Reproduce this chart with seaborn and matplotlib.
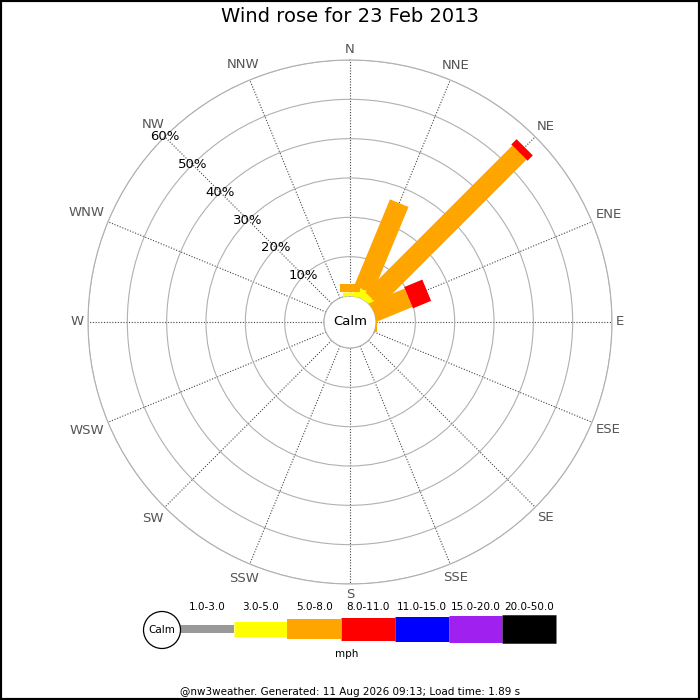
import matplotlib
matplotlib.use("Agg")
import matplotlib.pyplot as plt
import numpy as np
import seaborn as sns
from matplotlib.patches import Circle, Rectangle

# Wind directions (clockwise from north)
directions = ['N', 'NNE', 'NE', 'ENE', 'E', 'ESE', 'SE', 'SSE',
              'S', 'SSW', 'SW', 'WSW', 'W', 'WNW', 'NW', 'NNW']

# Speed bins (mph) and their colours
speed_bins = ['1.0-3.0', '3.0-5.0', '5.0-8.0', '8.0-11.0',
              '11.0-15.0', '15.0-20.0', '20.0-50.0']
bin_colors = ['#999999', '#ffff00', '#ffa500', '#ff0000',
              '#0000ff', '#a020f0', '#000000']

# Percentage of time per direction, per speed bin
pct_1_3 = [0, 0, 0, 0, 0, 0, 0, 0, 0, 0, 0, 0, 0, 0, 0, 0]
pct_3_5 = [1.1, 2.3, 1.5, 0, 0, 0, 0, 0, 0, 0, 0, 0, 0, 0, 0, 0]
pct_5_8 = [2.0, 23.8, 52.8, 9.5, 0.3, 0, 0, 0, 0, 0, 0, 0, 0, 0, 0, 0]
pct_8_11 = [0, 0, 1.9, 5.0, 0, 0, 0, 0, 0, 0, 0, 0, 0, 0, 0, 0]
pct_11_15 = [0, 0, 0, 0, 0, 0, 0, 0, 0, 0, 0, 0, 0, 0, 0, 0]
pct_15_20 = [0, 0, 0, 0, 0, 0, 0, 0, 0, 0, 0, 0, 0, 0, 0, 0]
pct_20_50 = [0, 0, 0, 0, 0, 0, 0, 0, 0, 0, 0, 0, 0, 0, 0, 0]

ring_ticks = [10, 20, 30, 40, 50, 60]

title = 'Wind rose for 23 Feb 2013'
footer = '@nw3weather. Generated: 11 Aug 2026 09:13; Load time: 1.89 s'

sns.set_style('white')
plt.rcParams['font.family'] = ['DejaVu Sans']
plt.rcParams['text.color'] = 'black'

# bar thickness in pixels for each bin (also used in the legend)
bar_px = [8, 15, 20, 23, 25, 27, 28.5]
calm_offset = 6.61  # size of calm hole, in % units
outer_px = 262
px_per_unit = outer_px / (60 + calm_offset)

fig = plt.figure(figsize=(7, 7), dpi=100)
fig.patch.set_facecolor('white')

R = outer_px / 700
ax = fig.add_axes([0.5 - R, 1 - 322 / 700 - R, 2 * R, 2 * R], projection='polar')
ax.set_theta_zero_location('N')
ax.set_theta_direction(-1)
ax.set_ylim(0, 60)
ax.set_rorigin(-calm_offset)

theta = np.deg2rad(np.arange(16) * 22.5)
data = np.array([pct_1_3, pct_3_5, pct_5_8, pct_8_11, pct_11_15, pct_15_20, pct_20_50])
top = np.cumsum(data, axis=0)
bottom = top - data
bottom[bottom == 0] = -calm_offset  # first segment starts at the centre (clipped by calm hole)

for i in range(len(speed_bins)):
    mask = data[i] > 0
    if mask.any():
        ax.vlines(theta[mask], bottom[i][mask], top[i][mask],
                  colors=bin_colors[i], linewidth=bar_px[i] * 0.72,
                  capstyle='butt', zorder=3)

# grids
ax.set_thetagrids(np.arange(16) * 22.5, labels=[''] * 16)
ax.set_rgrids([0] + ring_ticks, labels=[''] * 7)
ax.xaxis.grid(True, color='#444444', linestyle=(0, (1, 1.5)), linewidth=0.8)
ax.yaxis.grid(True, color='#b0b0b0', linestyle='-', linewidth=0.8)
for name in ax.spines:
    ax.spines[name].set_color('#b0b0b0')
    ax.spines[name].set_linewidth(0.8)

# direction labels: keep the nearest edge of each label a fixed gap from the rim
renderer = fig.canvas.get_renderer()
for t, lab in zip(theta, directions):
    txt = ax.text(t, 63, lab, ha='center', va='center', fontsize=9.5,
                  color='#555555', clip_on=False)
    bb = txt.get_window_extent(renderer)
    reach = bb.width / 2 * abs(np.sin(t)) + bb.height / 2 * abs(np.cos(t))
    txt.set_position((t, (266 + reach) / px_per_unit - calm_offset))

for r in ring_ticks:
    ax.text(np.deg2rad(315), r, f'{r}%', ha='center', va='center',
            fontsize=9.5, color='black', zorder=5)

ax.text(0.5, 0.5, 'Calm', transform=ax.transAxes, ha='center', va='center',
        fontsize=9.5, color='black', zorder=6)

fig.text(0.5, 1 - 17 / 700, title, ha='center', va='center', fontsize=14)

# legend strip in pixel coordinates
lg = fig.add_axes([0, 0, 1, 140 / 700])
lg.set_xlim(0, 700)
lg.set_ylim(700, 560)
lg.axis('off')
lg.patch.set_alpha(0)

x0, seg_w, y_mid = 180, 53.7, 629
for i, lab in enumerate(speed_bins):
    xa = x0 + i * seg_w
    lg.hlines(y_mid, xa, xa + seg_w, colors=bin_colors[i],
              linewidth=bar_px[i] * 0.72, capstyle='butt')
    lg.text(xa + seg_w / 2, 607, lab, ha='center', va='center', fontsize=7.5)
lg.add_patch(Circle((162, 630), 18.5, facecolor='white', edgecolor='black', lw=0.9, zorder=4))
lg.text(162, 630, 'Calm', ha='center', va='center', fontsize=7.5, zorder=5)
lg.text(347, 654, 'mph', ha='center', va='center', fontsize=7.5)
lg.text(350, 692, footer, ha='center', va='center', fontsize=7.5)

fig.add_artist(Rectangle((0, 0), 1, 1, transform=fig.transFigure, fill=False,
                         edgecolor='black', linewidth=3))

fig.savefig('out.png', dpi=100)
